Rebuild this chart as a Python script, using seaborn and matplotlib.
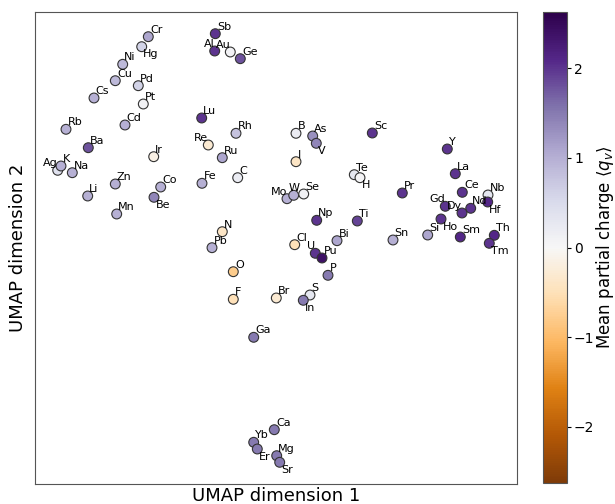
import numpy as np
import pandas as pd
import matplotlib
matplotlib.use("Agg")
import matplotlib.pyplot as plt
import seaborn as sns

# ── Data (UMAP coordinates, y grows downward) ──
elements = ["Cr", "Hg", "Ni", "Cu", "Pd", "Cs", "Pt", "Rb", "Cd", "Ba",
            "Ag", "K", "Na", "Li", "Zn", "Mn", "Co", "Be", "Ir", "Lu",
            "Re", "Rh", "Ru", "Fe", "C", "Sb", "Al", "Au", "Ge", "B",
            "As", "V", "I", "Sc", "Te", "H", "Pr", "Mo", "W", "Se",
            "Np", "Ti", "N", "Pb", "Cl", "Bi", "U", "Pu", "P", "O",
            "F", "Br", "S", "In", "Ga", "Sn", "Si", "Y", "La", "Ce",
            "Nb", "Hf", "Nd", "Gd", "Dy", "Ho", "Sm", "Th", "Tm", "Ca",
            "Yb", "Er", "Mg", "Sr"]
umap_x = [148.3, 141.7, 122.7, 115.3, 138.3, 94.0, 143.3, 66.0, 125.0, 88.3,
          57.7, 61.0, 72.3, 87.7, 115.3, 116.7, 160.7, 154.0, 153.7, 201.7,
          208.3, 236.0, 222.3, 202.0, 237.7, 215.3, 214.7, 230.3, 240.3, 296.0,
          312.7, 316.3, 296.0, 372.3, 354.3, 360.0, 402.3, 287.0, 293.7, 303.7,
          316.7, 357.3, 222.3, 212.0, 294.7, 337.0, 315.3, 322.0, 328.0, 233.3,
          233.3, 276.3, 310.0, 303.3, 253.7, 393.0, 427.7, 447.3, 455.3, 462.3,
          488.0, 487.7, 470.7, 445.3, 462.0, 441.0, 460.3, 494.3, 489.3, 274.3,
          253.7, 257.3, 276.7, 279.7]
umap_y = [36.7, 46.7, 64.3, 80.7, 85.7, 98.0, 104.0, 129.3, 125.0, 147.7,
          170.3, 166.0, 172.7, 196.0, 184.0, 214.0, 187.0, 197.3, 156.7, 118.0,
          145.0, 133.3, 157.7, 183.3, 177.7, 33.7, 51.0, 52.0, 58.7, 133.3,
          136.0, 143.3, 161.7, 133.0, 174.7, 177.7, 193.0, 198.7, 195.3, 194.0,
          220.3, 221.0, 231.7, 247.7, 244.7, 240.7, 253.3, 258.0, 275.3, 271.7,
          299.3, 298.0, 295.0, 300.3, 337.3, 240.0, 235.0, 149.0, 173.7, 192.3,
          195.0, 202.0, 208.3, 206.3, 213.0, 219.0, 237.0, 235.3, 243.3, 429.7,
          442.3, 449.0, 455.7, 462.3]
charge = [1.1, 0.6, 0.9, 0.9, 0.6, 1.0, 0.1, 1.0, 1.0, 1.8,
          0.4, 1.0, 1.0, 1.0, 1.0, 1.0, 1.0, 1.4, -0.15, 2.0,
          -0.3, 0.8, 1.1, 1.0, 0.2, 2.0, 2.0, 0.1, 1.8, 0.2,
          1.3, 1.4, -0.4, 2.0, 0.3, 0.05, 2.0, 1.0, 1.0, 0.1,
          2.0, 1.9, -0.4, 1.0, -0.5, 1.1, 2.0, 2.4, 1.5, -0.8,
          -0.5, -0.3, 0.3, 1.5, 1.5, 1.0, 1.1, 2.0, 2.0, 2.0,
          0.3, 2.1, 2.0, 2.0, 2.0, 2.0, 2.1, 2.1, 2.0, 1.5,
          1.5, 1.5, 1.5, 1.5]

df = pd.DataFrame({"element": elements, "x": umap_x, "y": umap_y, "q": charge})

# label placement: default is upper right of the point
below_right = {"Hg", "Be", "V", "H", "In", "Hf", "Ho", "Tm", "Er", "Sr"}
above_left = {"Ag", "Re", "Al", "Au", "Mo", "U", "Gd", "Dy"}
above_center = {"W"}

vmax = 2.63
norm = plt.Normalize(-vmax, vmax)
cmap = plt.get_cmap("PuOr")

sns.set_style("white", {"text.color": "black", "axes.labelcolor": "black",
                        "ytick.color": "black"})
fig = plt.figure(figsize=(6.15, 5.04), dpi=100)
ax = fig.add_axes([35 / 615, 20 / 504, 482 / 615, 472 / 504])
cax = fig.add_axes([543 / 615, 21 / 504, 24 / 615, 471 / 504])

sns.scatterplot(data=df, x="x", y="y", hue="q", palette="PuOr", hue_norm=norm,
                s=50, edgecolor="#333333", linewidth=0.8, legend=False, ax=ax)

for _, r in df.iterrows():
    if r["element"] in below_right:
        off, ha, va = (1.2, -2.0), "left", "top"
    elif r["element"] in above_left:
        off, ha, va = (0.0, 3.0), "right", "baseline"
    elif r["element"] in above_center:
        off, ha, va = (0.0, 3.0), "center", "baseline"
    else:
        off, ha, va = (1.2, 3.0), "left", "baseline"
    ax.annotate(r["element"], (r["x"], r["y"]), xytext=off, textcoords="offset points",
                ha=ha, va=va, fontsize=8)

ax.set_xlim(35, 517)
ax.set_ylim(484, 12)
ax.set_xticks([])
ax.set_yticks([])
ax.set_xlabel("UMAP dimension 1", fontsize=13, labelpad=2)
ax.set_ylabel("UMAP dimension 2", fontsize=13, labelpad=6)
for sp in ax.spines.values():
    sp.set_color("#555555")

sm = plt.cm.ScalarMappable(norm=norm, cmap=cmap)
cb = fig.colorbar(sm, cax=cax)
cb.set_ticks([-2, -1, 0, 1, 2])
cb.ax.tick_params(labelsize=10, pad=2, length=3)
cb.set_label(r"Mean partial charge $\langle q_v \rangle$", fontsize=12, labelpad=0)
cb.outline.set_edgecolor("#555555")

plt.savefig("out.png", dpi=100)
